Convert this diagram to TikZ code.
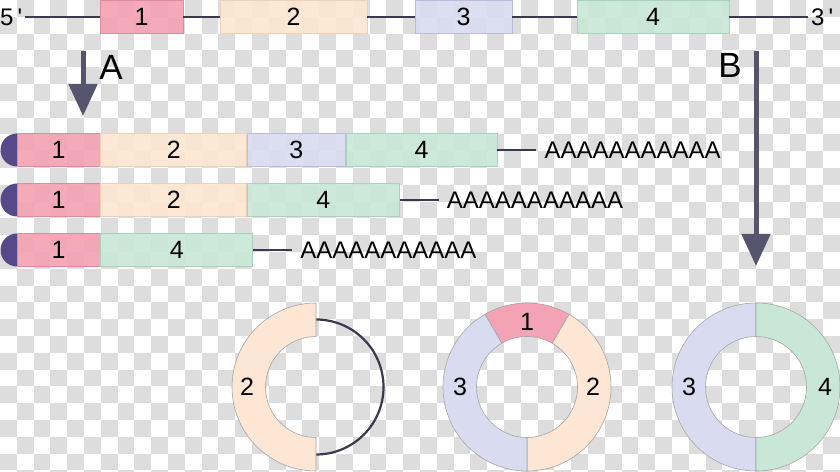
\documentclass[tikz,border=0pt]{standalone}
\usepackage{fontspec}
\setmainfont{Liberation Sans}
\usepackage{tikz}
\usetikzlibrary{arrows.meta,calc,positioning}
\definecolor{exred}{HTML}{F3A3B3}
\definecolor{exredd}{HTML}{DE8C9C}
\definecolor{exorange}{HTML}{FDE6D3}
\definecolor{exoranged}{HTML}{EBD0BA}
\definecolor{exblue}{HTML}{D9DBF1}
\definecolor{exblued}{HTML}{B9BCDB}
\definecolor{exgreen}{HTML}{C9E7D7}
\definecolor{exgreend}{HTML}{A9D1BD}
\definecolor{capc}{HTML}{574889}
\definecolor{arrowc}{HTML}{57546E}
\definecolor{intron}{HTML}{3B3A4C}
\definecolor{chk}{HTML}{DDDDDD}
\newcommand{\ringpart}[4]{%
  \draw[ringedge,fill=#4] ($(#1)+(#2:84)$) arc[start angle=#2,end angle=#3,radius=84]
    -- ($(#1)+(#3:50.5)$) arc[start angle=#3,end angle=#2,radius=50.5] -- cycle;}

\begin{document}
\begin{tikzpicture}[x=1pt,y=1pt,
  exon/.style={draw,minimum height=33pt,inner sep=0pt,line width=0.7pt,
    fill opacity=0.92,text opacity=1,font=\fontsize{25}{30}\selectfont},
  endlab/.style={inner sep=3pt,font=\fontsize{24}{28}\selectfont},
  polya/.style={inner sep=8pt,font=\fontsize{24}{28}\selectfont},
  numlab/.style={inner sep=0pt,font=\fontsize{25}{30}\selectfont},
  letter/.style={inner sep=0pt,font=\fontsize{35}{40}\selectfont},
  intronline/.style={intron,line width=2.2pt},
  bigarrow/.style={arrowc,line width=5pt,-{Triangle[length=32pt,width=28pt]}},
  ringedge/.style={draw=black!35,line width=0.6pt}]
  \useasboundingbox (0,0) rectangle (840,471);
  % transparency checkerboard
  \foreach \i in {0,...,49}{
    \foreach \j in {0,...,28}{
      \pgfmathtruncatemacro\odd{mod(\i+\j,2)}
      \ifnum\odd=1 \fill[chk] (\i*16.8,471-\j*16.8) rectangle ++(16.8,-16.8);\fi
    }
  }

  % pre-mRNA
  \node[exon,fill=exred,draw=exredd,minimum width=83pt] (e1) at (141.5,454) {1};
  \node[exon,fill=exorange,draw=exoranged,minimum width=147pt] (e2) at (293.5,454) {2};
  \node[exon,fill=exblue,draw=exblued,minimum width=97pt] (e3) at (463.5,454) {3};
  \node[exon,fill=exgreen,draw=exgreend,minimum width=152pt] (e4) at (653,454) {4};
  \node[endlab,anchor=west] (p5) at (-3,454) {5\,\textquotesingle};
  \node[endlab,anchor=west] (p3) at (808,454) {3\,\textquotesingle};
  \foreach \a/\b in {p5/e1,e1/e2,e2/e3,e3/e4,e4/p3}
    \draw[intronline] (\a) -- (\b);

  % arrows A and B
  \coordinate (a0) at (83,420);
  \coordinate (a1) at (83,355);
  \draw[bigarrow] (a0) -- (a1);
  \node[letter] (la) at (111,404) {A};
  \coordinate (b0) at (756,420);
  \coordinate (b1) at (756,205);
  \draw[bigarrow] (b0) -- (b1);
  \node[letter] (lb) at (730,406) {B};

  % linear mRNAs
  \fill[capc] (17,337.5) arc[start angle=90,end angle=270,radius=16.5] -- cycle;
  \node[exon,fill=exred,draw=exredd,minimum width=83pt] (m1a) at (58.5,321) {1};
  \node[exon,fill=exorange,draw=exoranged,minimum width=146pt,right=0pt of m1a] (m1b) {2};
  \node[exon,fill=exblue,draw=exblued,minimum width=98pt,right=0pt of m1b] (m1c) {3};
  \node[exon,fill=exgreen,draw=exgreend,minimum width=151pt,right=0pt of m1c] (m1d) {4};
  \node[polya,right=39pt of m1d] (pa1) {AAAAAAAAAAA};
  \draw[intronline] (m1d) -- (pa1);

  \fill[capc] (17,287.5) arc[start angle=90,end angle=270,radius=16.5] -- cycle;
  \node[exon,fill=exred,draw=exredd,minimum width=83pt] (m2a) at (58.5,271) {1};
  \node[exon,fill=exorange,draw=exoranged,minimum width=146pt,right=0pt of m2a] (m2b) {2};
  \node[exon,fill=exgreen,draw=exgreend,minimum width=152pt,right=0pt of m2b] (m2c) {4};
  \node[polya,right=39pt of m2c] (pa2) {AAAAAAAAAAA};
  \draw[intronline] (m2c) -- (pa2);

  \fill[capc] (17,237.5) arc[start angle=90,end angle=270,radius=16.5] -- cycle;
  \node[exon,fill=exred,draw=exredd,minimum width=83pt] (m3a) at (58.5,221) {1};
  \node[exon,fill=exgreen,draw=exgreend,minimum width=152pt,right=0pt of m3a] (m3b) {4};
  \node[polya,right=39pt of m3b] (pa3) {AAAAAAAAAAA};
  \draw[intronline] (m3b) -- (pa3);

  % circular RNAs
  \coordinate (c1) at (316,84);
  \coordinate (c2) at (527,84);
  \coordinate (c3) at (756,84);
  \draw[intronline] ($(c1)+(90:67.5)$) arc[start angle=90,end angle=-90,radius=67.5];
  \ringpart{c1}{90}{270}{exorange}
  \node[numlab] (k1b) at ($(c1)+(180:69)$) {2};

  \ringpart{c2}{60}{120}{exred}
  \ringpart{c2}{-90}{60}{exorange}
  \ringpart{c2}{120}{270}{exblue}
  \node[numlab] (k2a) at ($(c2)+(90:65)$) {1};
  \node[numlab] (k2b) at ($(c2)+(0:66)$) {2};
  \node[numlab] (k2c) at ($(c2)+(180:67)$) {3};

  \ringpart{c3}{90}{270}{exblue}
  \ringpart{c3}{-90}{90}{exgreen}
  \node[numlab] (k3c) at ($(c3)+(180:67)$) {3};
  \node[numlab] (k3d) at ($(c3)+(0:69)$) {4};
\end{tikzpicture}
\end{document}
